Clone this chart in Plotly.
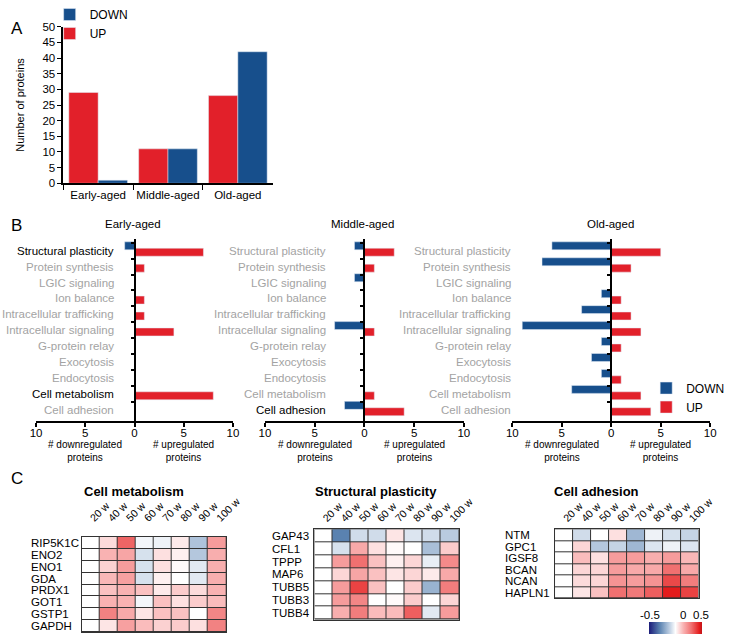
import plotly.graph_objects as go

# ---------------- data ----------------
age_groups = ["Early-aged", "Middle-aged", "Old-aged"]
total_up = [29, 11, 28]
total_down = [1, 11, 42]

categories = ["Structural plasticity", "Protein synthesis", "LGIC signaling", "Ion balance",
              "Intracellular trafficking", "Intracellular signaling", "G-protein relay",
              "Exocytosis", "Endocytosis", "Cell metabolism", "Cell adhesion"]
early_down = [1, 0, 0, 0, 0, 0, 0, 0, 0, 0, 0]
early_up = [7, 1, 0, 1, 1, 4, 0, 0, 0, 8, 0]
middle_down = [1, 0, 1, 0, 0, 3, 0, 0, 0, 0, 2]
middle_up = [3, 1, 0, 0, 0, 1, 0, 0, 0, 1, 4]
old_down = [6, 7, 0, 1, 3, 9, 1, 2, 1, 4, 0]
old_up = [5, 2, 0, 1, 2, 3, 1, 0, 1, 3, 4]
early_bold = ["Structural plasticity", "Cell metabolism"]
middle_bold = ["Cell adhesion"]
old_bold = []

weeks = ["20 w", "40 w", "50 w", "60 w", "70 w", "80 w", "90 w", "100 w"]

metab_genes = ["RIP5K1C", "ENO2", "ENO1", "GDA", "PRDX1", "GOT1", "GSTP1", "GAPDH"]
metab_z = [
    [0, 0.07, 0.32, -0.02, -0.03, 0.04, -0.14, 0.20],
    [0, 0.15, 0.18, -0.07, 0.06, 0.03, -0.13, 0.16],
    [0, 0.09, 0.20, -0.07, 0.06, 0.01, -0.05, 0.16],
    [0, 0.14, 0.19, -0.07, 0.03, 0.00, -0.05, 0.16],
    [0, 0.12, 0.15, 0.12, 0.04, 0.10, 0.07, 0.15],
    [0, 0.15, 0.15, -0.02, 0.12, 0.06, 0.10, 0.13],
    [0, 0.26, 0.17, 0.05, 0.12, 0.12, 0.00, 0.25],
    [0, 0.05, 0.19, 0.13, 0.09, 0.10, 0.06, 0.26],
]

struct_genes = ["GAP43", "CFL1", "TPPP", "MAP6", "TUBB5", "TUBB3", "TUBB4"]
struct_z = [
    [0, -0.30, -0.08, -0.08, 0.05, -0.06, -0.08, -0.12],
    [0, -0.07, 0.17, 0.06, 0.01, 0.00, -0.15, 0.10],
    [0, 0.20, 0.30, 0.12, 0.03, 0.08, -0.04, 0.24],
    [0, 0.08, 0.18, 0.12, 0.05, 0.08, 0.04, 0.17],
    [0, 0.20, 0.38, 0.12, 0.00, 0.10, -0.18, 0.27],
    [0, 0.20, 0.25, 0.00, 0.01, 0.10, 0.00, 0.08],
    [0, 0.16, 0.27, 0.13, 0.13, 0.33, -0.05, 0.20],
]

adh_genes = ["NTM", "GPC1", "IGSF8", "BCAN", "NCAN", "HAPLN1"]
adh_z = [
    [0, -0.08, 0.00, 0.06, -0.17, -0.03, -0.07, -0.10],
    [0, 0.08, -0.13, -0.10, -0.17, -0.06, -0.03, -0.06],
    [0, 0.13, 0.06, 0.20, 0.20, 0.16, 0.20, 0.14],
    [0, 0.08, 0.08, 0.20, 0.17, 0.17, 0.30, 0.17],
    [0, 0.07, 0.08, 0.22, 0.20, 0.22, 0.37, 0.27],
    [0, 0.05, 0.12, 0.30, 0.28, 0.33, 0.45, 0.38],
]

colorbar_ticks = ["-0.5", "0", "0.5"]

# ---------------- style ----------------
W, H = 733, 640
FONT = "Arial, Liberation Sans, sans-serif"
RED = "#e2202a"
BLUE = "#174f8c"
GRAY = "#a3a3a3"


def X(px):
    return px / W


def Y(py):
    return 1 - py / H


fig = go.Figure()
annotations = []
shapes = []

# ---------- Panel A ----------
fig.add_trace(go.Bar(x=age_groups, y=total_up, name="UP", marker_color=RED,
                     offset=-0.42, width=0.42, xaxis="x", yaxis="y",
                     legend="legend", legendrank=2, showlegend=True))
fig.add_trace(go.Bar(x=age_groups, y=total_down, name="DOWN", marker_color=BLUE,
                     offset=0.0, width=0.42, xaxis="x", yaxis="y",
                     legend="legend", legendrank=1, showlegend=True))

# ---------- Panel B ----------
panels = [
    ("2", early_down, early_up, early_bold, 31, 234, 132.5, 113),
    ("3", middle_down, middle_up, middle_bold, 267, 472, 369.5, 332),
    ("4", old_down, old_up, old_bold, 522, 726, 624, 523),
]
for i, (k, dn, up, bold, x0, x1, zx, labx) in enumerate(panels):
    last = (i == 2)
    fig.add_trace(go.Bar(y=categories, x=[-v for v in dn], orientation="h", name="DOWN",
                         marker_color=BLUE, offset=-0.55, width=0.5,
                         xaxis="x" + k, yaxis="y" + k, legend="legend2",
                         legendrank=1, showlegend=last))
    fig.add_trace(go.Bar(y=categories, x=up, orientation="h", name="UP",
                         marker_color=RED, offset=-0.15, width=0.5,
                         xaxis="x" + k, yaxis="y" + k, legend="legend2",
                         legendrank=2, showlegend=last))
    fig.update_layout(**{
        "xaxis" + k: dict(domain=[X(x0), X(x1)], range=[-10, 10], anchor="y" + k,
                          tickvals=[-10, -5, 0, 5, 10],
                          ticktext=["10", "5", "0", "5", "10"],
                          showline=True, linecolor="black", linewidth=2,
                          ticks="outside", ticklen=4, tickwidth=1.5, tickcolor="black",
                          showgrid=False, zeroline=False, ticklabelstandoff=-3,
                          tickfont=dict(size=11.5, color="black", family=FONT)),
        "yaxis" + k: dict(domain=[Y(418), Y(229.4)], type="category",
                          categoryorder="array", categoryarray=categories,
                          range=[10.66, -0.7], anchor="free", position=X(zx),
                          showticklabels=False,
                          tickson="boundaries", ticks="outside", ticklen=3,
                          tickwidth=1.5, tickcolor="black",
                          showline=True, linecolor="black", linewidth=2,
                          showgrid=False, zeroline=False),
    })
    for c in categories:
        annotations.append(dict(text=c, xref="paper", yref="y" + k, x=X(labx), y=c,
                                xanchor="right", yanchor="middle", showarrow=False,
                                font=dict(size=11.5, family=FONT,
                                          color="black" if c in bold else GRAY)))

# ---------- Panel C ----------
colorscale = [
    [0.0, "#1c1c7a"],
    [0.2, "#5a82b0"],
    [0.38, "#b9cbe0"],
    [0.5, "#ffffff"],
    [0.65, "#f9b2b2"],
    [0.8, "#f07070"],
    [0.95, "#e41c1c"],
    [1.0, "#c0141a"],
]

# key, rows, values, left px, right px, top px, bottom px, title, label px, title px, label standoff
heatmaps = [
    ("5", metab_genes, metab_z, 78, 227, 539, 638, "Cell metabolism", 24, 78, 8),
    ("6", struct_genes, struct_z, 318, 467, 531, 625, "Structural plasticity", 272, 316, 0),
    ("7", adh_genes, adh_z, 566, 714, 531, 603, "Cell adhesion", 512, 563, 0),
]
for k, genes, z, x0, x1, ytop, ybot, title, labx, titx, so in heatmaps:
    fig.add_trace(go.Heatmap(z=z, x=weeks, y=genes, coloraxis="coloraxis",
                             xgap=1, ygap=1, xaxis="x" + k, yaxis="y" + k,
                             hoverinfo="x+y+z"))
    n = len(genes)
    fig.update_layout(**{
        "xaxis" + k: dict(domain=[X(x0), X(x1)], anchor="y" + k, side="top",
                          type="category", range=[-0.5, len(weeks) - 0.5],
                          tickangle=-45, ticks="", ticklabelstandoff=so,
                          showline=True, mirror=True, linecolor="#333333", linewidth=1,
                          showgrid=False, zeroline=False,
                          tickfont=dict(size=10.5, color="black", family=FONT)),
        "yaxis" + k: dict(domain=[Y(ybot), Y(ytop)], anchor="x" + k, type="category",
                          categoryorder="array", categoryarray=genes,
                          range=[n - 0.5, -0.5], showticklabels=False, ticks="",
                          showline=True, mirror=True, linecolor="#333333", linewidth=1,
                          showgrid=False, zeroline=False),
    })
    shapes.append(dict(type="rect", xref="x%s domain" % k, yref="y%s domain" % k,
                       x0=0, x1=1, y0=0, y1=1, fillcolor="#333333",
                       line=dict(width=0), layer="below"))
    for g in genes:
        annotations.append(dict(text=g, xref="paper", yref="y" + k, x=X(labx), y=g,
                                xanchor="left", yanchor="middle", showarrow=False,
                                font=dict(size=11.5, color="black", family=FONT)))
    annotations.append(dict(text="<b>%s</b>" % title, xref="paper", yref="paper",
                            x=X(titx), y=Y(492), xanchor="left", yanchor="middle",
                            showarrow=False,
                            font=dict(size=13, color="black", family=FONT)))

for t, px in zip(colorbar_ticks, [664, 698, 716]):
    annotations.append(dict(text=t, xref="paper", yref="paper", x=X(px), y=Y(620),
                            xanchor="center", yanchor="middle", showarrow=False,
                            font=dict(size=11.5, color="black", family=FONT)))

# ---------- texts ----------
for t, px in [("Early-aged", 130.5), ("Middle-aged", 368), ("Old-aged", 623)]:
    annotations.append(dict(text=t, xref="paper", yref="paper", x=X(px), y=Y(213),
                            xanchor="center", yanchor="middle", showarrow=False,
                            font=dict(size=11.5, color="black", family=FONT)))
for k in ["2", "3", "4"]:
    for t, xv in [("# downregulated<br>proteins", -5), ("# upregulated<br>proteins", 5)]:
        annotations.append(dict(text=t, xref="x" + k, yref="paper", x=xv, y=Y(450),
                                xanchor="center", yanchor="middle", showarrow=False,
                                font=dict(size=10, color="black", family=FONT)))
for t, py in [("A", 10), ("B", 215), ("C", 478)]:
    annotations.append(dict(text=t, xref="paper", yref="paper", x=X(3), y=Y(py),
                            xanchor="left", yanchor="middle", showarrow=False,
                            font=dict(size=17, color="black", family=FONT)))

fig.update_layout(
    width=W, height=H, margin=dict(l=0, r=0, t=0, b=0),
    paper_bgcolor="white", plot_bgcolor="white",
    font=dict(family=FONT, color="black", size=11.5),
    barmode="overlay",
    xaxis=dict(domain=[X(59), X(275)], anchor="y", range=[-0.5, 2.5],
               categoryorder="array", categoryarray=age_groups, tickangle=0,
               tickson="boundaries", ticks="outside", ticklen=5, tickcolor="black",
               showline=True, linecolor="black", linewidth=1.5, showgrid=False,
               zeroline=False, tickfont=dict(size=11.5, color="black")),
    yaxis=dict(domain=[Y(171), Y(8)], anchor="x", range=[0, 50], dtick=5,
               ticks="outside", ticklen=4, tickcolor="black",
               showline=True, linecolor="black", linewidth=1.5, showgrid=False,
               zeroline=False, tickfont=dict(size=11.5, color="black"),
               title=dict(text="Number of proteins", font=dict(size=11), standoff=16)),
    legend=dict(x=X(45), y=Y(-20), xanchor="left", yanchor="top",
                bgcolor="rgba(0,0,0,0)", font=dict(size=12, color="black"),
                traceorder="normal"),
    legend2=dict(x=X(660), y=Y(369), xanchor="left", yanchor="top",
                 bgcolor="rgba(0,0,0,0)", font=dict(size=12, color="black"),
                 traceorder="normal"),
    coloraxis=dict(colorscale=colorscale, cmin=-0.5, cmax=0.5,
                   colorbar=dict(orientation="h", x=X(663), xanchor="left",
                                 y=Y(627), yanchor="top", len=53, lenmode="pixels",
                                 thickness=12, thicknessmode="pixels",
                                 showticklabels=False, ticks="", outlinewidth=0,
                                 xpad=0, ypad=0)),
    annotations=annotations,
    shapes=shapes,
)

fig.write_html("out.html", config={"displayModeBar": False},
               post_script="document.body.style.margin='0';"
                           "document.body.style.overflow='hidden';")
